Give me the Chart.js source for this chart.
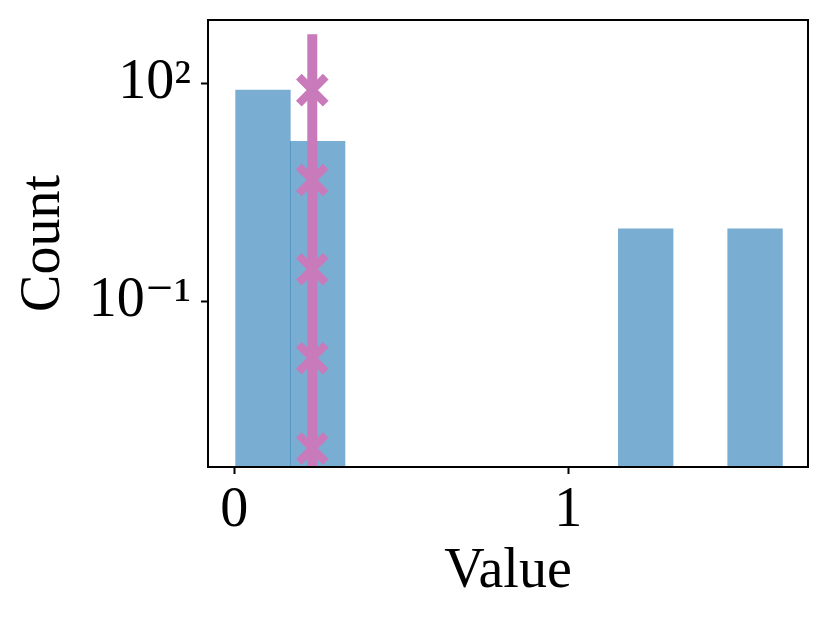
<!DOCTYPE html>
<html>
<head>
<meta charset="utf-8">
<script src="https://cdn.jsdelivr.net/npm/chart.js@4.4.1/dist/chart.umd.min.js"></script>
<style>
html,body{margin:0;padding:0;background:#fff;}
#wrap{width:829px;height:622px;position:relative;}
</style>
</head>
<body>
<div id="wrap"><canvas id="c"></canvas></div>
<script>
// Histogram bins (centres) and counts
const binCenters = [0.0859, 0.2496, 0.4133, 0.5770, 0.7407, 0.9044, 1.0681, 1.2318, 1.3955, 1.5592];
const binCounts  = [81, 16, null, null, null, null, null, 1, null, 1];
// Vertical marker line
const lineX = 0.2335;
const lineYRange = [0.000533, 475];
const markerY = [81, 4.7, 0.28, 0.0167, 0.00096];
// Axes
const xTicks = [0, 1];
const yTicks = [0.1, 100];
const yTickLabels = {"0.1": "10\u207B\u00B9", "100": "10\u00B2"};
const xRange = [-0.0787, 1.7177];
const yRange = [0.000533, 746];

const FONT = "'Liberation Serif', 'DejaVu Serif', serif";
const BAR = 'rgba(31,119,180,0.6)';
const PINK = '#c97aba';

const frame = {
  id: 'frame',
  afterDraw(chart) {
    const {ctx, chartArea: a} = chart;
    ctx.save();
    ctx.strokeStyle = '#000';
    ctx.lineWidth = 2;
    ctx.strokeRect(a.left, a.top, a.right - a.left, a.bottom - a.top);
    ctx.restore();
  }
};

new Chart(document.getElementById('c'), {
  data: {
    datasets: [
      {
        type: 'scatter',
        label: 'markers',
        data: markerY.map(y => ({x: lineX, y})),
        pointStyle: 'crossRot',
        pointRadius: 19,
        pointHoverRadius: 19,
        borderColor: PINK,
        backgroundColor: PINK,
        pointBorderWidth: 8,
        borderWidth: 8,
        order: 0
      },
      {
        type: 'line',
        label: 'line',
        data: lineYRange.map(y => ({x: lineX, y})),
        borderColor: PINK,
        borderWidth: 10,
        borderCapStyle: 'butt',
        pointRadius: 0,
        fill: false,
        order: 1
      },
      {
        type: 'bar',
        label: 'hist',
        data: binCenters.map((x, i) => ({x, y: binCounts[i]})),
        backgroundColor: BAR,
        borderWidth: 0,
        barPercentage: 1,
        categoryPercentage: 1,
        grouped: false,
        order: 2
      }
    ]
  },
  options: {
    responsive: true,
    maintainAspectRatio: false,
    animation: false,
    events: [],
    layout: {autoPadding: false, padding: {left: 0, right: 21, top: 20, bottom: 0}},
    plugins: {legend: {display: false}, tooltip: {enabled: false}},
    scales: {
      x: {
        type: 'linear',
        position: 'bottom',
        offset: false,
        min: xRange[0], max: xRange[1],
        afterBuildTicks(s) { s.ticks = xTicks.map(v => ({value: v})); },
        afterFit(s) { s.height = 155; s.paddingLeft = 0; s.paddingRight = 0; },
        ticks: {
          font: {family: FONT, size: 56},
          color: '#000',
          padding: 4,
          maxRotation: 0,
          autoSkip: false,
          callback: v => String(v)
        },
        grid: {display: true, offset: false, drawOnChartArea: false, drawTicks: true, tickLength: 7, tickWidth: 2, tickColor: '#000'},
        border: {display: true, color: '#000', width: 2},
        title: {display: true, text: 'Value', font: {family: FONT, size: 56, lineHeight: 1}, color: '#000', padding: {top: 0, bottom: 22}}
      },
      y: {
        type: 'logarithmic',
        position: 'left',
        min: yRange[0], max: yRange[1],
        afterBuildTicks(s) { s.ticks = yTicks.map(v => ({value: v, major: true})); },
        afterFit(s) { s.width = 208; s.paddingTop = 0; s.paddingBottom = 0; },
        ticks: {
          font: {family: FONT, size: 56},
          color: '#000',
          padding: 10,
          autoSkip: false,
          callback: v => yTickLabels[String(v)] || ''
        },
        grid: {display: true, offset: false, drawOnChartArea: false, drawTicks: true, tickLength: 7, tickWidth: 2, tickColor: '#000'},
        border: {display: true, color: '#000', width: 2},
        title: {display: true, text: 'Count', font: {family: FONT, size: 56, lineHeight: 1}, color: '#000', padding: {top: 16, bottom: 0}}
      }
    }
  },
  plugins: [frame]
});
</script>
</body>
</html>
